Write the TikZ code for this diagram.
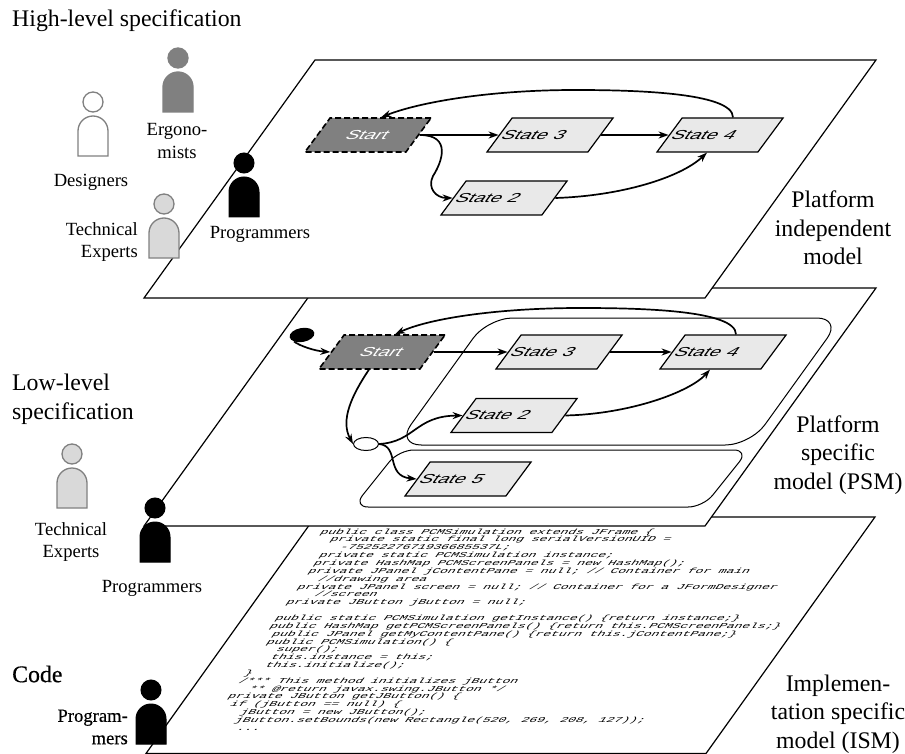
\documentclass[tikz,border=0pt]{standalone}
\usepackage{fontspec}
\setmainfont{Liberation Serif}
\setmonofont{Liberation Mono}
\newfontfamily\statefont{Liberation Sans}
\newfontfamily\heavyfont[FakeBold=0.5]{Liberation Serif}
\usetikzlibrary{arrows.meta,shapes.geometric}
\newcommand{\codefont}{\ttfamily\fontsize{7.5}{7.85}\selectfont\lineskiplimit -20pt\relax}
\tikzstyle{plane}=[draw, fill=white, line width=1.2pt]
\tikzstyle{group}=[draw, line width=1pt, rounded corners=25pt, transform shape, inner sep=0pt]
\tikzstyle{state}=[draw, fill=gray!17, line width=1.2pt, xslant=0.74, xscale=1.5, transform shape, minimum width=67.3pt, minimum height=34pt, inner sep=0pt, font=\statefont\fontsize{13}{15}\selectfont]
\tikzstyle{plain}=[state, text width=62.3pt, inner xsep=2.5pt, align=left]
\tikzstyle{first}=[state, fill=gray, text=white, dash pattern=on 6pt off 3pt, line width=1.6pt, align=center]
\tikzstyle{arrow}=[line width=1.7pt, -{Stealth[length=10pt,width=7pt]}]
\tikzstyle{big}=[inner sep=0pt, align=center, font=\fontsize{23.8}{28.6}\selectfont]
\tikzstyle{small}=[inner sep=0pt, align=center, font=\fontsize{18.6}{22.4}\selectfont]
\tikzstyle{code}=[inner sep=0pt, align=left, anchor=north west, xslant=0.7, xscale=1.72, transform shape, font=\codefont]
\tikzstyle{designer}=[draw=gray, fill=white, line width=1.3pt]
\tikzstyle{ergonomist}=[draw=gray, fill=gray, line width=1.3pt]
\tikzstyle{expert}=[draw=gray, fill=gray!30, line width=1.3pt]
\tikzstyle{programmer}=[draw=black, fill=black, line width=1pt]
\newcommand{\person}[4]{
	\node[circle, minimum size=20pt, inner sep=0pt, #4] (#1) at (#2,#3) {};
	\draw[#4] (#2-15,#3+54) -- (#2-15,#3+29) arc[start angle=180, end angle=360, radius=15] -- (#2+15,#3+54) -- cycle;
}
\newcommand{\cind}[1]{\hspace*{\dimexpr #1em*6/10\relax}}

\begin{document}
\begin{tikzpicture}[x=1pt, y=-1pt]
\useasboundingbox (0,0) rectangle (905,754);

% the three planes
\draw[plane] (315,517) -- (875,517) -- (706,753.5) -- (146,753.5) -- cycle;
\draw[plane] (315,288) -- (876,288) -- (705,526) -- (144,526) -- cycle;
\draw[plane] (315,60) -- (876,60) -- (705,298) -- (144,298) -- cycle;

% platform independent model
\node[first] (start1) at (368,135) {Start};
\node[plain] (three1) at (550,135) {State 3};
\node[plain] (four1) at (720,135) {State 4};
\node[plain] (two1) at (504,198) {State 2};
\draw[arrow] (start1.east) -- (three1.west);
\draw[arrow] (three1.east) -- (four1.west);
\draw[arrow] (start1.east) .. controls (452,135) and (442,162) .. (433,176) .. controls (427,188) and (436,198) .. (two1.west);
\draw[arrow] (two1.east) .. controls (620,196) and (680,178) .. (four1.south);
\draw[arrow] (four1.north) .. controls (733,92) and (630,90) .. (575,90) .. controls (490,90) and (420,102) .. (start1.north);

% platform specific model
\node[group, xslant=0.72, minimum width=354pt, minimum height=127pt] (inner) at (619,381.5) {};
\node[group, xslant=0.8, rounded corners=15pt, minimum width=350pt, minimum height=57pt] (lower) at (551,478.5) {};
\node[first] (start2) at (382,352) {Start};
\node[plain] (three2) at (559,352) {State 3};
\node[plain] (four2) at (723,352) {State 4};
\node[plain] (two2) at (514,415.5) {State 2};
\node[plain] (five2) at (468,479) {State 5};
\node[ellipse, fill=black, rotate=10, minimum width=25pt, minimum height=14pt, inner sep=0pt] (init) at (302,335) {};
\node[ellipse, draw, fill=white, line width=1pt, minimum width=25pt, minimum height=13pt, inner sep=0pt] (choice) at (366,444) {};
\draw[arrow] (init.south west) .. controls (300,346) and (315,351) .. (start2.west);
\draw[arrow] (start2.east) -- (three2.west);
\draw[arrow] (three2.east) -- (four2.west);
\draw[arrow] (start2.south) .. controls (352,395) and (340,420) .. (choice.west);
\draw[arrow] (choice.east) .. controls (415,442) and (415,416) .. (two2.west);
\draw[arrow] (choice.east) .. controls (400,446) and (385,476) .. (five2.west);
\draw[arrow] (two2.east) .. controls (630,414) and (690,392) .. (four2.south);
\draw[arrow] (four2.north) .. controls (736,310) and (640,308) .. (580,308) .. controls (500,308) and (430,318) .. (start2.north);

% implementation specific model
\node[code] (listing) at (323,528.5) {public class PCMSimulation extends JFrame \{\\
\cind{2}private static final long serialVersionUID =\\
\cind{4}-7525227671936685537L;\\
\cind{2}private static PCMSimulation instance;\\
\cind{2}private HashMap PCMScreenPanels = new HashMap();\\
\cind{2}private JPanel jContentPane = null; // Container for main\\
\cind{4}//drawing area\\
\cind{2}private JPanel screen = null; // Container for a JFormDesigner\\
\cind{5}//screen\\
\cind{2}private JButton jButton = null;\\
\mbox{}\\
\cind{2}public static PCMSimulation getInstance() \{return instance;\}\\
\cind{2}public HashMap getPCMScreenPanels() \{return this.PCMScreenPanels;\}\\
\cind{3}public JPanel getMyContentPane() \{return this.jContentPane;\}\\
\cind{3}public PCMSimulation() \{\\
\cind{5}super();\\
\cind{5}this.instance = this;\\
\cind{5}this.initialize();\\
\cind{3}\}\\
\cind{3}/*** This method initializes jButton\\
\cind{5}** @return javax.swing.JButton */\\
\cind{3}private JButton getJButton() \{\\
\cind{4}if (jButton == null) \{\\
\cind{6}jButton = new JButton();\\
\cind{6}jButton.setBounds(new Rectangle(520, 269, 208, 127));\\
\cind{7}...};

% people
\person{designers}{93}{102}{designer}
\person{ergonomists}{178}{58}{ergonomist}
\person{experts1}{164}{204}{expert}
\person{programmers1}{244}{163}{programmer}
\person{experts2}{72}{454}{expert}
\person{programmers2}{155}{508}{programmer}
\person{programmers3}{151}{690}{programmer}

% labels
\node[big, anchor=west] (high) at (12,21) {High-level specification};
\node[big, anchor=west, align=left] (low) at (12,399) {Low-level\\specification};
\node[big, anchor=west] (codelabel) at (12,674) {\heavyfont Code};
\node[big] (pim) at (833,228) {Platform\\independent\\model};
\node[big] (psm) at (838,455) {Platform\\specific\\model (PSM)};
\node[big] (ism) at (838,714) {Implemen-\\tation specific\\model (ISM)};
\node[small] (designerstext) at (91,182) {Designers};
\node[small] (ergonomiststext) at (177,141) {Ergono-\\mists};
\node[small, anchor=east, align=right] (experts1text) at (138,242) {Technical\\Experts};
\node[small] (programmers1text) at (260,234) {Programmers};
\node[small] (experts2text) at (71,542) {Technical\\Experts};
\node[small] (programmers2text) at (152,588) {Programmers};
\node[small, anchor=east, align=right] (programmers3text) at (128,727) {\heavyfont Program-\\\heavyfont mers};
\end{tikzpicture}
\end{document}
